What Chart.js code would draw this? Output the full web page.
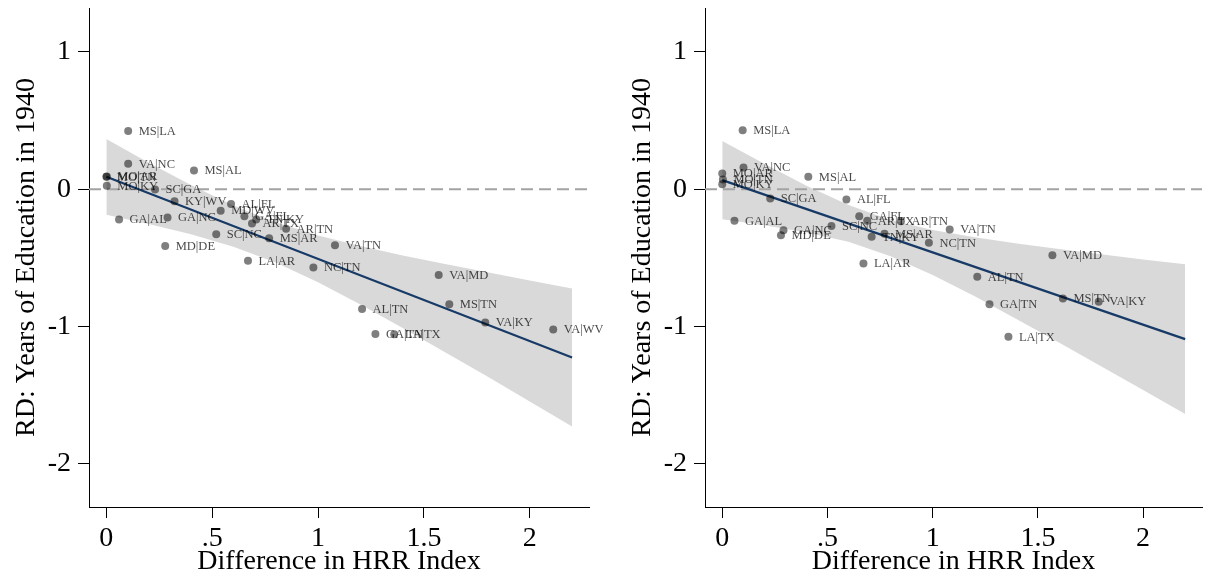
<!DOCTYPE html>
<html>
<head>
<meta charset="utf-8">
<script src="https://cdn.jsdelivr.net/npm/chart.js@4.4.1/dist/chart.umd.min.js"></script>
<style>
  html, body { margin: 0; padding: 0; background: #fff; }
  .panel { position: absolute; top: 0; width: 603px; height: 584px; }
  #leftPanel { left: 0; }
  #rightPanel { left: 603px; }
</style>
</head>
<body>
<div class="panel" id="leftPanel"><canvas id="leftChart" width="603" height="584"></canvas></div>
<div class="panel" id="rightPanel"><canvas id="rightChart" width="603" height="584"></canvas></div>
<script>
// Left panel: border pairs, HRR index difference, RD estimate
const leftPairs = ['MS|LA', 'VA|NC', 'MS|AL', 'MO|AR', 'MO|TN', 'MO|KY', 'SC|GA', 'KY|WV', 'AL|FL', 'MD|WV',
    'GA|NC', 'GA|FL', 'TN|KY', 'AR|TX', 'AR|TN', 'SC|NC', 'MS|AR', 'VA|TN', 'MD|DE', 'GA|AL',
    'LA|AR', 'NC|TN', 'VA|MD', 'AL|TN', 'MS|TN', 'VA|KY', 'VA|WV', 'GA|TN', 'LA|TX'];
const leftHrr = [0.103, 0.103, 0.414, 0.002, 0.000, 0.002, 0.230, 0.322, 0.589, 0.540,
    0.289, 0.652, 0.708, 0.688, 0.849, 0.519, 0.769, 1.080, 0.278, 0.060,
    0.669, 0.978, 1.570, 1.208, 1.620, 1.790, 2.111, 1.271, 1.360];
const leftRd = [0.424, 0.185, 0.136, 0.092, 0.090, 0.024, -0.002, -0.088, -0.108, -0.157,
    -0.206, -0.198, -0.221, -0.250, -0.289, -0.328, -0.357, -0.408, -0.415, -0.221,
    -0.522, -0.570, -0.626, -0.874, -0.838, -0.971, -1.022, -1.056, -1.058];

// Right panel
const rightPairs = ['MS|LA', 'VA|NC', 'MO|AR', 'MO|TN', 'MO|KY', 'MS|AL', 'SC|GA', 'AL|FL', 'GA|AL', 'GA|NC',
    'MD|DE', 'SC|NC', 'GA|FL', 'AR|TX', 'AR|TN', 'TN|KY', 'MS|AR', 'NC|TN', 'VA|TN', 'LA|AR',
    'AL|TN', 'VA|MD', 'MS|TN', 'VA|KY', 'GA|TN', 'LA|TX'];
const rightHrr = [0.097, 0.101, 0.000, 0.003, 0.000, 0.409, 0.228, 0.590, 0.058, 0.291,
    0.279, 0.519, 0.651, 0.689, 0.849, 0.710, 0.771, 0.982, 1.081, 0.671,
    1.212, 1.569, 1.619, 1.789, 1.270, 1.360];
const rightRd = [0.430, 0.158, 0.114, 0.071, 0.036, 0.090, -0.068, -0.075, -0.231, -0.299,
    -0.335, -0.268, -0.197, -0.231, -0.233, -0.347, -0.325, -0.391, -0.294, -0.541,
    -0.639, -0.481, -0.796, -0.820, -0.838, -1.076];

// Linear fit endpoints and 95% CI band
const fitX = [0, 2.2];
const leftFit = [0.090, -1.226];
const rightFit = [0.066, -1.093];
const bandX = [0, 0.2, 0.4, 0.6, 0.8, 1.0, 1.2, 1.4, 1.6, 1.8, 2.0, 2.2];
const leftUpper = [0.366, 0.193, 0.030, -0.119, -0.241, -0.337, -0.415, -0.483, -0.546, -0.606, -0.665, -0.723];
const leftLower = [-0.186, -0.253, -0.328, -0.419, -0.535, -0.679, -0.841, -1.011, -1.188, -1.366, -1.547, -1.729];
const rightUpper = [0.351, 0.185, 0.025, -0.116, -0.224, -0.297, -0.351, -0.396, -0.436, -0.475, -0.512, -0.548];
const rightLower = [-0.219, -0.263, -0.315, -0.384, -0.488, -0.625, -0.781, -0.948, -1.118, -1.291, -1.464, -1.638];

// Axis ticks
const xTicks = [0, 0.5, 1, 1.5, 2];
const xTickLabels = ['0', '.5', '1', '1.5', '2'];
const yTicks = [-2, -1, 0, 1];
const yTickLabels = ['-2', '-1', '0', '1'];

const SERIF = '"Liberation Serif", "DejaVu Serif", serif';
const NAVY = '#173a66';

const zip = (xs, ys) => xs.map((x, i) => ({ x: x, y: ys[i] }));

// dashed reference line at zero, drawn over the band but under the fit
const zeroLine = {
    id: 'zeroLine',
    beforeDatasetDraw(chart, args) {
        if (chart.data.datasets[args.index].id !== 'fit') return;
        const { ctx, chartArea, scales } = chart;
        const y = scales.y.getPixelForValue(0);
        ctx.save();
        ctx.strokeStyle = '#a3a3a3';
        ctx.lineWidth = 2;
        ctx.setLineDash([12, 6]);
        ctx.beginPath();
        ctx.moveTo(chartArea.left, y);
        ctx.lineTo(chartArea.right, y);
        ctx.stroke();
        ctx.restore();
    }
};

// pair labels to the right of each marker
const pairLabels = {
    id: 'pairLabels',
    afterDatasetsDraw(chart) {
        const ctx = chart.ctx;
        chart.data.datasets.forEach((ds, di) => {
            if (!ds.pairs) return;
            const meta = chart.getDatasetMeta(di);
            ctx.save();
            ctx.font = '12.5px ' + SERIF;
            ctx.fillStyle = 'rgba(0,0,0,0.72)';
            ctx.textBaseline = 'middle';
            ctx.textAlign = 'left';
            meta.data.forEach((pt, i) => {
                ctx.fillText(ds.pairs[i], pt.x + 10.5, pt.y + 0.5);
            });
            ctx.restore();
        });
    }
};

function makeChart(canvasId, pairs, hrr, rd, fit, upper, lower, axisWidth, padRight, titlePad) {
    return new Chart(document.getElementById(canvasId), {
        type: 'scatter',
        data: {
            datasets: [
                {
                    id: 'points',
                    pairs: pairs,
                    data: zip(hrr, rd),
                    pointRadius: 4,
                    pointBackgroundColor: 'rgba(0,0,0,0.5)',
                    pointBorderWidth: 0,
                    order: 1
                },
                {
                    id: 'fit',
                    type: 'line',
                    data: zip(fitX, fit),
                    borderColor: NAVY,
                    borderWidth: 2.2,
                    pointRadius: 0,
                    fill: false,
                    order: 2
                },
                {
                    type: 'line',
                    data: zip(bandX, upper),
                    borderWidth: 0,
                    pointRadius: 0,
                    fill: false,
                    order: 3
                },
                {
                    type: 'line',
                    data: zip(bandX, lower),
                    borderWidth: 0,
                    pointRadius: 0,
                    backgroundColor: '#d9d9d9',
                    fill: '-1',
                    order: 3
                }
            ]
        },
        options: {
            responsive: false,
            animation: false,
            layout: { padding: { top: 8, right: padRight, left: 0, bottom: 0 } },
            plugins: { legend: { display: false }, tooltip: { enabled: false } },
            scales: {
                x: {
                    type: 'linear',
                    min: -0.082,
                    max: 2.28,
                    afterBuildTicks: s => { s.ticks = xTicks.map(v => ({ value: v })); },
                    afterFit: s => { s.height = 77; s.paddingLeft = 0; s.paddingRight = 0; },
                    ticks: {
                        font: { family: SERIF, size: 28 },
                        color: '#000',
                        padding: 4,
                        maxRotation: 0,
                        callback: v => xTickLabels[xTicks.indexOf(v)]
                    },
                    grid: { drawOnChartArea: false, drawTicks: true, tickLength: 11, color: '#000' },
                    border: { display: true, color: '#000', width: 1 },
                    title: {
                        display: true,
                        text: 'Difference in HRR Index',
                        font: { family: SERIF, size: 28 },
                        color: '#000',
                        padding: { top: 0, bottom: 6 }
                    }
                },
                y: {
                    type: 'linear',
                    min: -2.316,
                    max: 1.32,
                    afterBuildTicks: s => { s.ticks = yTicks.map(v => ({ value: v })); },
                    afterFit: s => { s.width = axisWidth; s.paddingTop = 0; s.paddingBottom = 0; },
                    ticks: {
                        font: { family: SERIF, size: 28 },
                        color: '#000',
                        padding: 7,
                        callback: v => yTickLabels[yTicks.indexOf(v)]
                    },
                    grid: { drawOnChartArea: false, drawTicks: true, tickLength: 11, color: '#000' },
                    border: { display: true, color: '#000', width: 1 },
                    title: {
                        display: true,
                        text: 'RD: Years of Education in 1940',
                        font: { family: SERIF, size: 28 },
                        color: '#000',
                        padding: { top: titlePad, bottom: 0 }
                    }
                }
            }
        },
        plugins: [zeroLine, pairLabels]
    });
}

makeChart('leftChart', leftPairs, leftHrr, leftRd, leftFit, leftUpper, leftLower, 89, 14, 10);
makeChart('rightChart', rightPairs, rightHrr, rightRd, rightFit, rightUpper, rightLower, 102, 0, 23);
</script>
</body>
</html>
